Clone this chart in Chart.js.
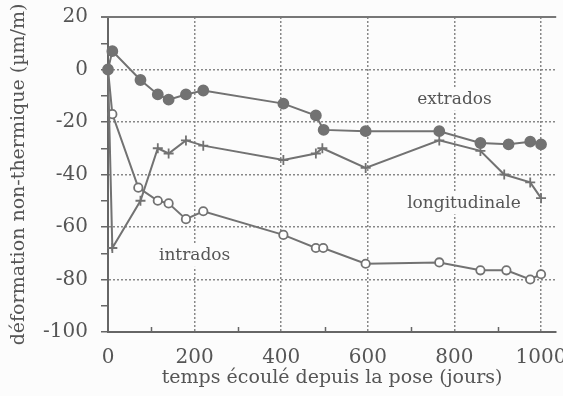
<!DOCTYPE html>
<html>
<head>
<meta charset="utf-8">
<script src="https://cdn.jsdelivr.net/npm/chart.js@4"></script>
<style>
  html, body { margin: 0; padding: 0; background: #fcfcfc; overflow: hidden; }
  #wrap { width: 563px; height: 396px; }
</style>
</head>
<body>
<div id="wrap"><canvas id="chart"></canvas></div>
<script>
// days since installation
const extDays = [0, 10, 75, 115, 140, 180, 220, 405, 480, 498, 595, 765, 860, 925, 975, 1000];
const extVals = [0, 7, -4, -9.5, -11.5, -9.5, -8, -13, -17.5, -23, -23.5, -23.5, -28, -28.5, -27.5, -28.5];

const lonDays = [0, 10, 75, 115, 140, 180, 220, 405, 480, 495, 595, 765, 860, 915, 975, 1000];
const lonVals = [0, -68, -50, -30, -32, -27, -29, -34.5, -32, -30, -37.5, -27, -31, -40, -43, -49];

const intDays = [0, 10, 70, 115, 140, 180, 220, 405, 480, 497, 595, 765, 860, 920, 975, 1000];
const intVals = [0, -17, -45, -50, -51, -57, -54, -63, -68, -68, -74, -73.5, -76.5, -76.5, -80, -78];

const seriesNames = ["extrados", "longitudinale", "intrados"];

const FONT = "DejaVu Serif";
const INK = "#555";
const LINE = "#727272";
const GRID = "#888";
const BG = "#fcfcfc";

// where the series names are written, in data units
const notes = [
  { text: seriesNames[0], x: 800, y: -11.5 },
  { text: seriesNames[1], x: 822, y: -51 },
  { text: seriesNames[2], x: 200, y: -71 },
];

function pts(xs, ys) {
  return xs.map((d, i) => ({ x: d, y: ys[i] }));
}

const notesPlugin = {
  id: "notes",
  beforeDatasetsDraw(chart) {
    const { ctx, scales: { x, y } } = chart;
    ctx.save();
    ctx.font = "17px '" + FONT + "'";
    ctx.textAlign = "center";
    ctx.textBaseline = "middle";
    notes.forEach(n => {
      const px = x.getPixelForValue(n.x);
      const py = y.getPixelForValue(n.y);
      const w = ctx.measureText(n.text).width;
      ctx.fillStyle = BG;
      ctx.fillRect(px - w / 2 - 3, py - 11, w + 6, 22);
      ctx.fillStyle = INK;
      ctx.fillText(n.text, px, py);
    });
    ctx.restore();
  },
  afterDraw(chart) {
    const { ctx, scales: { x }, chartArea } = chart;
    ctx.save();
    ctx.setLineDash([]);
    // small inward ticks on the time axis
    ctx.strokeStyle = "#666";
    ctx.lineWidth = 1.5;
    ctx.beginPath();
    x.ticks.forEach(t => {
      if (t.value % 200 !== 0) {
        const px = Math.round(x.getPixelForValue(t.value)) + 0.5;
        ctx.moveTo(px, chartArea.bottom);
        ctx.lineTo(px, chartArea.bottom - 5);
      }
    });
    ctx.stroke();
    // solid frame line along the top
    ctx.strokeStyle = "#777";
    ctx.lineWidth = 2;
    ctx.beginPath();
    ctx.moveTo(chartArea.left - 7, chartArea.top);
    ctx.lineTo(chartArea.right, chartArea.top);
    ctx.stroke();
    ctx.restore();
  }
};

const common = {
  borderColor: LINE,
  borderWidth: 2,
  showLine: true,
  clip: false,
  pointBorderColor: LINE,
  pointBorderWidth: 1.8,
};

new Chart(document.getElementById("chart"), {
  type: "scatter",
  data: {
    datasets: [
      Object.assign({}, common, {
        label: seriesNames[0],
        data: pts(extDays, extVals),
        pointStyle: "circle",
        pointRadius: 5,
        backgroundColor: LINE,
      }),
      Object.assign({}, common, {
        label: seriesNames[1],
        data: pts(lonDays, lonVals),
        pointStyle: "cross",
        pointRadius: 5,
        backgroundColor: LINE,
      }),
      Object.assign({}, common, {
        label: seriesNames[2],
        data: pts(intDays, intVals),
        pointStyle: "circle",
        pointRadius: 4.2,
        backgroundColor: "#fff",
      }),
    ]
  },
  options: {
    responsive: true,
    maintainAspectRatio: false,
    animation: false,
    layout: { padding: { top: 17, right: 0, bottom: 0, left: 0 } },
    plugins: {
      legend: { display: false },
      tooltip: { enabled: false },
    },
    scales: {
      x: {
        type: "linear",
        min: 0,
        max: 1035,
        afterFit(scale) {
          scale.height = 64;
          scale.paddingLeft = 0;
          scale.paddingRight = 0;
        },
        ticks: {
          stepSize: 100,
          includeBounds: false,
          autoSkip: false,
          maxRotation: 0,
          padding: 14,
          color: INK,
          font: { family: FONT, size: 20 },
          callback: v => (v % 200 === 0 ? v : ""),
        },
        grid: {
          drawTicks: false,
          lineWidth: 1.5,
          color: c => (c.tick && c.tick.value % 200 === 0 && c.tick.value > 0 ? GRID : "rgba(0,0,0,0)"),
        },
        border: { color: "#666", width: 2, dash: [2, 2] },
        title: {
          display: true,
          text: "temps écoulé depuis la pose (jours)",
          color: INK,
          font: { family: FONT, size: 19 },
          padding: { top: 0, bottom: 7 },
        },
      },
      y: {
        min: -100,
        max: 20,
        afterFit(scale) {
          scale.width = 108;
          scale.paddingTop = 0;
          scale.paddingBottom = 0;
        },
        ticks: {
          stepSize: 10,
          autoSkip: false,
          padding: 13,
          color: INK,
          font: { family: FONT, size: 20 },
          callback: v => (v % 20 === 0 ? v : ""),
        },
        grid: {
          drawTicks: true,
          tickLength: 7,
          lineWidth: 1.5,
          tickColor: "#666",
          color: c => (c.tick && c.tick.value % 20 === 0 && c.tick.value > -100 ? GRID : "rgba(0,0,0,0)"),
        },
        border: { color: "#666", width: 2, dash: [2, 2] },
        title: {
          display: true,
          text: "déformation non-thermique (µm/m)",
          color: INK,
          font: { family: FONT, size: 19 },
          padding: { top: 8, bottom: 0 },
        },
      },
    },
  },
  plugins: [notesPlugin],
});
</script>
</body>
</html>
